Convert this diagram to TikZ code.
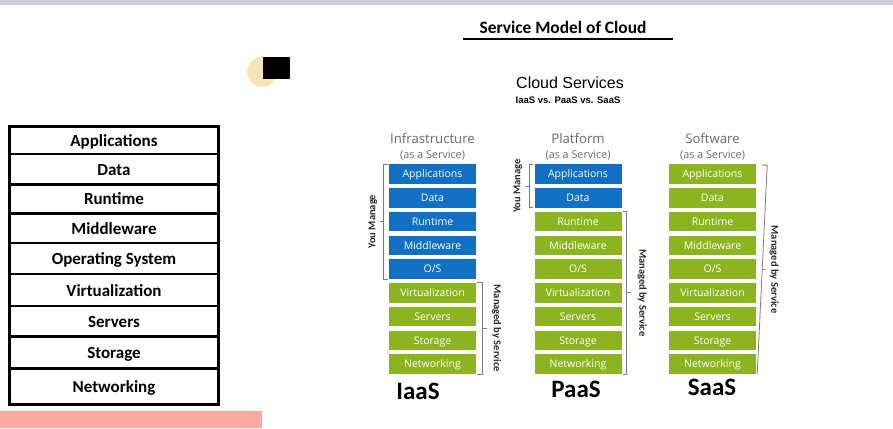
\documentclass[tikz,border=0pt]{standalone}
\usepackage{fontspec}
\setmainfont{Carlito}
\newfontfamily\boxfont{Open Sans}
\newfontfamily\headfont{Liberation Sans}
\usetikzlibrary{calc}
\definecolor{svblue}{RGB}{17,112,196}
\definecolor{svgreen}{RGB}{140,180,30}
\definecolor{bargrey}{RGB}{200,205,216}
\definecolor{barpink}{RGB}{249,169,158}
\definecolor{capgrey}{RGB}{105,105,105}
\definecolor{bracketgrey}{RGB}{125,125,125}
\definecolor{cursoryellow}{RGB}{247,230,181}
\begin{document}
\begin{tikzpicture}
[x=1pt,y=-1pt,
  tablerow/.style={draw,line width=2.8pt,minimum width=209.2pt,inner sep=0pt,
    text height=12pt,text depth=0pt,font=\bfseries\fontsize{17}{17}\selectfont},%
  layerbox/.style={minimum width=87pt,minimum height=19.5pt,inner sep=0pt,
    text height=7.5pt,text depth=0pt,text=white,font=\boxfont\fontsize{10.5}{10.5}\selectfont},%
  colhead/.style={text=capgrey,inner sep=0pt,font=\boxfont\fontsize{13.2}{13.2}\selectfont},%
  colsub/.style={text=capgrey,inner sep=0pt,font=\boxfont\fontsize{10.8}{10.8}\selectfont},%
  bracketline/.style={draw=bracketgrey,line width=0.8pt},%
  sidelabel/.style={inner sep=0pt,text=black!85,font=\bfseries\fontsize{10.5}{10.5}\selectfont},%
  modellabel/.style={inner sep=0pt,font=\bfseries\fontsize{25}{25}\selectfont}]
\useasboundingbox (0,0) rectangle (893,428);
%% page bits
\fill[bargrey] (0,0) rectangle (893,5);
\fill[barpink] (0,411) rectangle (262,428);
\fill[cursoryellow] (262,72) circle (15);
\fill[black] (263,57) rectangle (290,79);
%% title
\node (title) at (563,27) [inner sep=0pt,font=\bfseries\fontsize{17.4}{17.4}\selectfont] {Service Model of Cloud};
\draw[line width=2pt] (463,39.5) -- (673,39.5);
%% left stack
\foreach \rowname/\rowtext/\top/\bot in {ap/Applications/126.4/154, da/Data/154/184.3,
  ru/Runtime/184.3/213.5, mi/Middleware/213.5/243, os/Operating System/243/274,
  vi/Virtualization/274/306, se/Servers/306/336.5, st/Storage/336.5/368.7,
  ne/Networking/368.7/404.6} {
  \node (\rowname) at (114,\top/2+\bot/2) [tablerow,minimum height=\bot pt-\top pt] {\rowtext};
}
%% cloud services heading
\node (cloud) at (570,83) [inner sep=0pt,font=\headfont\fontsize{16}{16}\selectfont] {Cloud Services};
\node (vs) at (568,100) [inner sep=0pt,font=\headfont\bfseries\fontsize{9.5}{9.5}\selectfont] {IaaS vs. PaaS vs. SaaS};
%% three columns
\foreach \col/\x/\nblue/\head/\model/\mx/\my in {ia/432.5/5/Infrastructure/IaaS/418/391,
  pa/578/2/Platform/PaaS/576/389, sa/712.5/0/Software/SaaS/712/387} {
  \node (\col head) at (\x,139) [colhead] {\head};
  \node (\col sub) at (\x,155) [colsub] {(as a Service)};
  \foreach \lay [count=\i] in {Applications, Data, Runtime, Middleware, {O/S},
    Virtualization, Servers, Storage, Networking} {
    \ifnum\i>\nblue \def\layfill{svgreen}\else \def\layfill{svblue}\fi
    \node (\col\i) at (\x,174.05+23.75*\i-23.75) [layerbox,fill=\layfill] {\lay};
  }
  \node (\col model) at (\mx,\my) [modellabel] {\model};
}
%% brackets
\draw[bracketline] ([xshift=-1pt]ia1.north west) -| ([xshift=-5pt]ia5.south west) -- ([xshift=-1pt]ia5.south west);
\draw[bracketline] ($(ia1.north west)!0.5!(ia5.south west)+(-5,0)$) -- ++(-4,0) coordinate (iayou);
\node at ($(iayou)+(-7,0)$) [sidelabel,rotate=90] {You Manage};
\draw[bracketline] ([xshift=1pt]ia6.north east) -| ([xshift=6.5pt]ia9.south east) -- ([xshift=1pt]ia9.south east);
\draw[bracketline] ($(ia6.north east)!0.5!(ia9.south east)+(6.5,0)$) -- ++(4,0) coordinate (iaman);
\node at ($(iaman)+(10,0)$) [sidelabel,rotate=-90] {Managed by Service};
\draw[bracketline] ([xshift=-1pt]pa1.north west) -| ([xshift=-4.5pt]pa2.south west) -- ([xshift=-1pt]pa2.south west);
\draw[bracketline] ($(pa1.north west)!0.5!(pa2.south west)+(-4.5,0)$) -- ++(-4,0) coordinate (payou);
\node at ($(payou)+(-8,0)$) [sidelabel,rotate=90] {You Manage};
\draw[bracketline] ([xshift=1pt]pa3.north east) -| ([xshift=5pt]pa9.south east) -- ([xshift=1pt]pa9.south east);
\draw[bracketline] ($(pa3.north east)!0.5!(pa9.south east)+(5,0)$) -- ++(4,0) coordinate (paman);
\node at ($(paman)+(11.5,0)$) [sidelabel,rotate=-90] {Managed by Service};
\draw[bracketline] ([xshift=6pt,yshift=-1pt]sa1.north east) -- ++(5,0) coordinate (satop)
  -- ([xshift=1pt]sa9.south east);
\draw[bracketline] ($(satop)!0.5!([xshift=1pt]sa9.south east)$) -- ++(3,0) coordinate (saman);
\node at ($(saman)+(9,0)$) [sidelabel,rotate=-90] {Managed by Service};
\end{tikzpicture}
\end{document}
